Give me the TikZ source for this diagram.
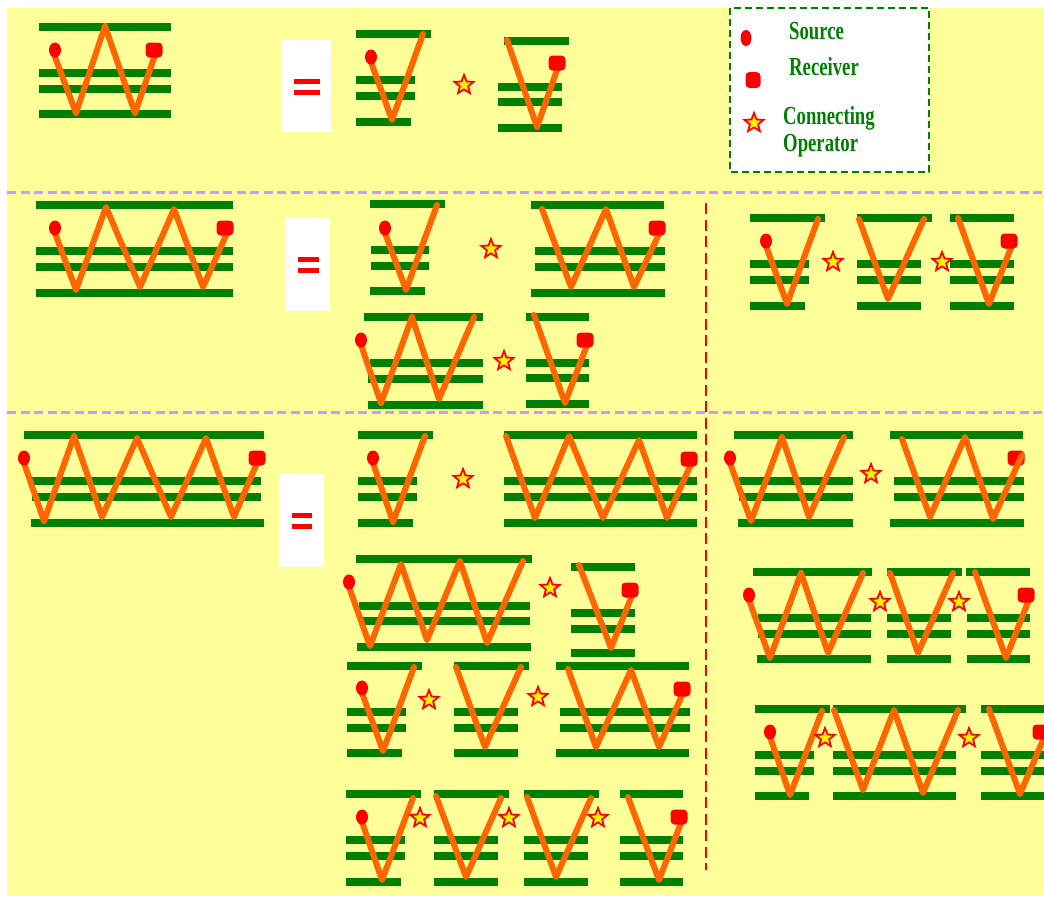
\documentclass[tikz,border=0pt]{standalone}
\usepackage{fontspec}
\usepackage{graphicx}
\setmainfont{Liberation Serif}
\usetikzlibrary{shapes.geometric}
\definecolor{bgyellow}{RGB}{255,255,153}
\definecolor{dgreen}{RGB}{0,128,0}
\definecolor{worange}{RGB}{255,102,0}
\definecolor{lav}{RGB}{204,153,255}
\newcommand\gb[3]{\draw[gbar] (#1,#3) -- (#2,#3);}
\begin{document}
\begin{tikzpicture}[x=1pt,y=-1pt,
 gbar/.style={draw=dgreen,line width=7.5pt},
 zz/.style={draw=worange,line width=6pt,line join=round,line cap=round},
 src/.style={ellipse,fill=red,minimum width=12pt,minimum height=15pt,inner sep=0pt},
 rcv/.style={rectangle,rounded corners=4pt,fill=red,minimum width=17pt,minimum height=15pt,inner sep=0pt},
 op/.style={star,star points=5,star point ratio=2.3,fill=yellow,draw=red,line width=1.8pt,minimum size=20pt,inner sep=0pt},
 eqbar/.style={fill=red},
 leg/.style={anchor=base west,text=dgreen,inner sep=0pt,font=\fontsize{26}{26}\selectfont\bfseries}]
\useasboundingbox (0,0) rectangle (1044,898);
\clip (0,0) rectangle (1044,898);
\fill[bgyellow] (7,8) rectangle (1044,896);
% separators
\draw[lav,line width=3pt,dash pattern=on 9pt off 4.5pt] (7,192) -- (1044,192);
\draw[lav,line width=3pt,dash pattern=on 9pt off 4.5pt] (7,412) -- (1044,412);
\draw[red,line width=2pt,dash pattern=on 11pt off 5.5pt] (706,203) -- (706,870);
% legend
\draw[dgreen,fill=white,line width=2.5pt,dash pattern=on 7pt off 4pt] (730,8) rectangle (929,172);
\node[src,minimum width=11pt,minimum height=16pt] (lsrc) at (746,38) {};
\node[rcv,minimum width=15pt,minimum height=16pt] (lrcv) at (753,80) {};
\node[op] (lop) at (754,123) {};
\node[leg] (tsrc) at (789,39) {\scalebox{0.72}[1]{Source}};
\node[leg] (trcv) at (789,75) {\scalebox{0.72}[1]{Receiver}};
\node[leg] (tcon) at (783,124) {\scalebox{0.72}[1]{Connecting}};
\node[leg] (topr) at (783,151) {\scalebox{0.72}[1]{Operator}};
% equals boxes
\fill[white] (281,40) rectangle (331,132);
\fill[eqbar] (294,79) rectangle (320,83.5); \fill[eqbar] (294,90) rectangle (320,94.5);
\fill[white] (285,218) rectangle (330,311);
\fill[eqbar] (298,257) rectangle (319,261.5); \fill[eqbar] (298,268) rectangle (319,272.5);
\fill[white] (279,474) rectangle (324,567);
\fill[eqbar] (292,513) rectangle (312,517.5); \fill[eqbar] (292,524) rectangle (312,528.5);
% ===== Row 1 =====
\gb{39}{171}{27}\gb{39}{171}{73}\gb{39}{171}{89}\gb{39}{171}{114}
\draw[zz] (55,57) -- (76,113) -- (105,26) -- (135,113) -- (155,55);
\node[src] (as) at (55,50) {}; \node[rcv] (ar) at (154,50) {};
\gb{356}{431}{34}\gb{356}{415}{80}\gb{356}{415}{96}\gb{356}{411}{122}
\draw[zz] (371,62) -- (392,120) -- (423,34);
\node[src] (bs) at (371,57) {};
\node[op] (o1) at (464,85) {};
\gb{504}{569}{41}\gb{498}{562}{87}\gb{498}{562}{102}\gb{498}{562}{128}
\draw[zz] (507,40) -- (537,127) -- (558,67);
\node[rcv] (cr) at (557,63) {};
% ===== Row 2 =====
\gb{36}{233}{205}\gb{36}{233}{251}\gb{36}{233}{267}\gb{36}{233}{293}
\draw[zz] (55,233)--(76,290)--(106,207)--(140,287)--(174,209)--(203,287)--(227,233);
\node[src] (ds) at (55,228) {}; \node[rcv] (dr) at (225,228) {};
\gb{370}{445}{204}\gb{371}{429}{250}\gb{371}{429}{266}\gb{370}{425}{291}
\draw[zz] (385,233)--(406,290)--(437,205);
\node[src] (es) at (385,228) {};
\node[op] (o2) at (491,249) {};
\gb{531}{664}{205}\gb{535}{665}{251}\gb{535}{665}{267}\gb{531}{665}{293}
\draw[zz] (542,209)--(571,287)--(606,209)--(634,287)--(660,232);
\node[rcv] (fr) at (657,228) {};
\gb{364}{483}{317}\gb{370}{483}{363}\gb{368}{483}{379}\gb{368}{483}{405}
\draw[zz] (361,345)--(381,403)--(412,317)--(439,399)--(474,317);
\node[src] (gs) at (361,340) {};
\node[op] (o3) at (504,361) {};
\gb{526}{589}{317}\gb{526}{589}{363}\gb{526}{589}{378}\gb{526}{589}{404}
\draw[zz] (534,315)--(565,403)--(587,345);
\node[rcv] (hr) at (585,340) {};
\gb{750}{825}{218}\gb{750}{809}{264}\gb{750}{809}{280}\gb{750}{805}{306}
\draw[zz] (766,246)--(787,304)--(818,219);
\node[src] (is) at (766,241) {};
\node[op] (o4) at (833,262) {};
\gb{857}{932}{218}\gb{857}{921}{264}\gb{857}{921}{280}\gb{857}{921}{306}
\draw[zz] (859,219)--(888,299)--(924,219);
\node[op] (o5) at (942,262) {};
\gb{950}{1014}{218}\gb{950}{1014}{264}\gb{950}{1014}{280}\gb{950}{1014}{306}
\draw[zz] (958,218)--(989,304)--(1012,245);
\node[rcv] (kr) at (1009,241) {};
% ===== Row 3 =====
\gb{24}{264}{435}\gb{32}{261}{481}\gb{32}{261}{497}\gb{31}{264}{523}
\draw[zz] (24,463)--(44,521)--(74,436)--(102,517)--(137,438)--(171,517)--(206,438)--(234,517)--(257,463);
\node[src] (ls) at (24,458) {}; \node[rcv] (lr) at (257,458) {};
\gb{358}{433}{435}\gb{358}{417}{481}\gb{358}{417}{497}\gb{358}{413}{523}
\draw[zz] (373,463)--(393,522)--(425,436);
\node[src] (ms) at (373,458) {};
\node[op] (o6) at (463,479) {};
\gb{504}{697}{435}\gb{504}{697}{481}\gb{504}{697}{497}\gb{504}{697}{523}
\draw[zz] (506,436)--(535,518)--(569,436)--(603,518)--(639,440)--(667,518)--(691,464);
\node[rcv] (nr) at (689,459) {};
\gb{356}{532}{559}\gb{359}{530}{606}\gb{359}{530}{621}\gb{357}{531}{647}
\draw[zz] (349,587)--(370,646)--(401,564)--(427,640)--(460,561)--(487,643)--(523,561);
\node[src] (os) at (349,582) {};
\node[op] (o7) at (550,588) {};
\gb{571}{635}{567}\gb{571}{635}{613}\gb{571}{635}{629}\gb{571}{635}{653}
\draw[zz] (579,565)--(611,648)--(633,593);
\node[rcv] (pr) at (630,590) {};
\gb{347}{422}{666}\gb{347}{406}{712}\gb{347}{406}{728}\gb{347}{402}{753}
\draw[zz] (362,693)--(383,751)--(414,667);
\node[src] (qs) at (362,688) {};
\node[op] (o8) at (429,700) {};
\gb{454}{529}{666}\gb{454}{518}{712}\gb{454}{518}{728}\gb{454}{518}{753}
\draw[zz] (456,667)--(485,747)--(521,667);
\node[op] (o9) at (538,697) {};
\gb{556}{689}{666}\gb{560}{690}{712}\gb{560}{690}{728}\gb{556}{689}{753}
\draw[zz] (568,669)--(596,747)--(631,670)--(659,747)--(683,693);
\node[rcv] (sr) at (682,689) {};
\gb{346}{421}{794}\gb{346}{405}{840}\gb{346}{405}{856}\gb{346}{401}{882}
\draw[zz] (362,822)--(382,880)--(413,798);
\node[src] (ts) at (362,817) {};
\node[op] (o10) at (420,818) {};
\gb{434}{509}{794}\gb{434}{498}{840}\gb{434}{498}{856}\gb{434}{498}{882}
\draw[zz] (436,796)--(466,877)--(501,798);
\node[op] (o11) at (509,818) {};
\gb{524}{599}{794}\gb{524}{588}{840}\gb{524}{588}{856}\gb{524}{588}{882}
\draw[zz] (527,797)--(556,877)--(591,798);
\node[op] (o12) at (598,818) {};
\gb{620}{683}{794}\gb{620}{683}{840}\gb{620}{683}{856}\gb{620}{683}{882}
\draw[zz] (628,797)--(659,880)--(681,823);
\node[rcv] (wr) at (679,817) {};
% right column row 3
\gb{734}{853}{435}\gb{739}{853}{481}\gb{739}{853}{497}\gb{738}{853}{523}
\draw[zz] (730,463)--(751,521)--(782,437)--(809,517)--(844,437);
\node[src] (xs) at (730,458) {};
\node[op] (o13) at (871,474) {};
\gb{890}{1023}{435}\gb{894}{1024}{481}\gb{894}{1024}{497}\gb{890}{1024}{523}
\node[rcv] (yr) at (1016,458) {};
\draw[zz] (902,439)--(930,517)--(965,437)--(993,519)--(1022,455);
\gb{753}{872}{572}\gb{758}{871}{618}\gb{758}{871}{634}\gb{757}{871}{659}
\draw[zz] (749,600)--(770,658)--(801,573)--(828,653)--(863,573);
\node[src] (zs) at (749,595) {};
\node[op] (o14) at (880,602) {};
\gb{887}{962}{572}\gb{887}{951}{618}\gb{887}{951}{634}\gb{887}{951}{659}
\draw[zz] (890,573)--(918,653)--(953,573);
\node[op] (o15) at (959,602) {};
\gb{966}{1030}{572}\gb{967}{1030}{618}\gb{967}{1030}{634}\gb{967}{1030}{659}
\draw[zz] (975,572)--(1006,658)--(1028,602);
\node[rcv] (abr) at (1026,595) {};
\gb{755}{830}{709}\gb{755}{814}{755}\gb{755}{814}{771}\gb{755}{809}{796}
\draw[zz] (770,737)--(790,795)--(822,711);
\node[src] (acs) at (770,732) {};
\node[op] (o16) at (825,738) {};
\gb{833}{966}{709}\gb{833}{956}{755}\gb{833}{956}{771}\gb{833}{956}{796}
\draw[zz] (834,710)--(863,790)--(894,710)--(923,793)--(958,710);
\node[op] (o17) at (969,738) {};
\gb{981}{1050}{709}\gb{981}{1050}{755}\gb{981}{1050}{771}\gb{981}{1050}{796}
\draw[zz] (989,709)--(1020,794)--(1046,733);
\node[rcv] (aer) at (1041,732) {};
\end{tikzpicture}
\end{document}
